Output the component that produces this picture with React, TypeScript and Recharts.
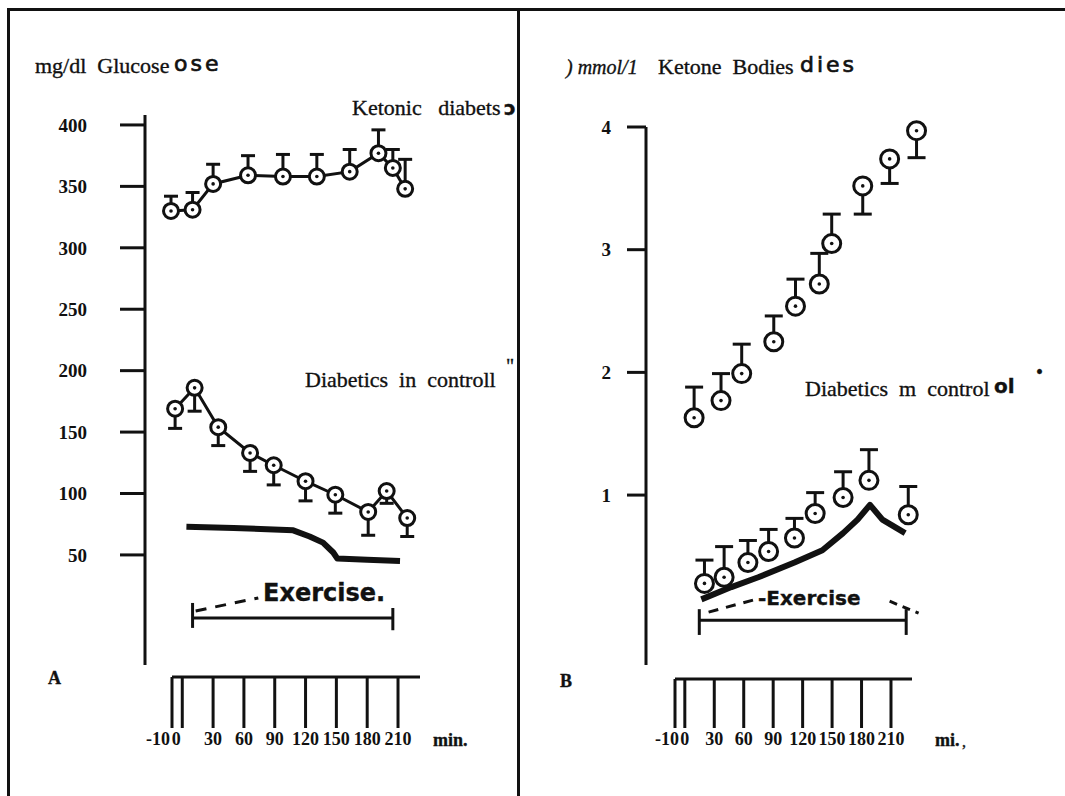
import React from "react";
import { ComposedChart, Line, XAxis, YAxis, ErrorBar, ReferenceLine } from "recharts";

// Panel A - blood glucose, mg/dl
const ketonicTimeA = [-11, 10, 30, 64, 98, 131, 163, 191, 205, 217];
const ketonicGlucose = [330, 331, 352, 359, 358, 358, 362, 377, 365, 348];
const ketonicGlucoseSem = [12, 14, 16, 16, 18, 18, 18, 19, 15, 24];

const controlledTimeA = [-7, 12, 35, 66, 89, 120, 149, 181, 199, 219];
const controlledGlucose = [169, 186, 154, 133, 123, 110, 99, 85, 102, 80];
const controlledGlucoseSem = [16, 19, 15, 15, 16, 16, 15, 19, 10, 15];

const healthyTimeA = [4, 50, 108, 124, 137, 147, 151, 180, 212];
const healthyGlucose = [73, 72, 70, 65, 60, 52, 47, 46, 45];

const glucoseTicks = [50, 100, 150, 200, 250, 300, 350, 400];

// Panel B - ketone bodies, mmol/l
const ketonicTimeB = [7, 33, 53, 84, 105, 128, 140, 170, 196, 222];
const ketonicKetones = [1.63, 1.77, 1.99, 2.25, 2.54, 2.72, 3.05, 3.52, 3.74, 3.97];
const ketonicKetonesUp = [0.25, 0.22, 0.24, 0.21, 0.22, 0.25, 0.24, 0, 0, 0];
const ketonicKetonesDown = [0, 0, 0, 0, 0, 0, 0, 0.23, 0.2, 0.22];

const controlledTimeB = [17, 36, 59, 79, 104, 124, 151, 176, 214];
const controlledKetones = [0.28, 0.33, 0.45, 0.54, 0.65, 0.85, 0.98, 1.12, 0.84];
const controlledKetonesSem = [0.19, 0.25, 0.18, 0.18, 0.16, 0.17, 0.21, 0.25, 0.23];

const healthyTimeB = [14, 43, 69, 104, 131, 151, 165, 177, 189, 211];
const healthyKetones = [0.15, 0.25, 0.33, 0.45, 0.55, 0.69, 0.8, 0.92, 0.8, 0.69];

const ketoneTicks = [1, 2, 3, 4];
const minuteTicks = [-10, 0, 30, 60, 90, 120, 150, 180, 210];

// exercise bracket, minutes
const exerciseA = [10, 205];
const exerciseB = [12, 212];

const ketonicA = ketonicTimeA.map((t, i) => ({ t, v: ketonicGlucose[i], err: [0, ketonicGlucoseSem[i]] }));
const controlledA = controlledTimeA.map((t, i) => ({ t, v: controlledGlucose[i], err: [controlledGlucoseSem[i], 0] }));
const healthyA = healthyTimeA.map((t, i) => ({ t, v: healthyGlucose[i] }));
const ketonicB = ketonicTimeB.map((t, i) => ({ t, v: ketonicKetones[i], err: [ketonicKetonesDown[i], ketonicKetonesUp[i]] }));
const controlledB = controlledTimeB.map((t, i) => ({ t, v: controlledKetones[i], err: [0, controlledKetonesSem[i]] }));
const healthyB = healthyTimeB.map((t, i) => ({ t, v: healthyKetones[i] }));
const combData = minuteTicks.map((t) => ({ t }));

const serif = "'Liberation Serif', 'DejaVu Serif', serif";
const sans = "'DejaVu Sans', sans-serif";
const INK = "#111";

const ring = (r: number) => (props: any) => {
  const { cx, cy, index } = props;
  if (cx == null || cy == null) return <g key={`e-${index}`} />;
  return (
    <g key={`d-${index}`}>
      <circle cx={cx} cy={cy} r={r} fill="#fff" stroke={INK} strokeWidth={3} />
      <circle cx={cx} cy={cy} r={1.8} fill={INK} />
    </g>
  );
};

const Txt = ({ x, y, size = 22, children, style = {} }: any) => (
  <div
    style={{
      position: "absolute",
      left: x,
      top: y - size / 2,
      fontSize: size,
      lineHeight: `${size}px`,
      whiteSpace: "pre",
      color: INK,
      WebkitTextStroke: "0.35px #111",
      ...style,
    }}
  >
    {children}
  </div>
);

// minute comb under each panel
const CombTick = (shift: Record<number, number>) => (props: any) => {
  const { x, y, payload } = props;
  const dx = shift[payload.value] || 0;
  return (
    <text x={x + dx} y={y} dy="0.71em" textAnchor="middle" fontFamily={serif} fontWeight="bold" fontSize={18} fill={INK}>
      {payload.value}
    </text>
  );
};

const Comb = ({ left, top, plotLeft, plotRight, end, tickSize, shift }: any) => (
  <div style={{ position: "absolute", left, top }}>
    <ComposedChart
      width={540}
      height={160}
      data={combData}
      margin={{ top: 10, right: 540 - plotRight, bottom: 160 - 70 - tickSize.axisY, left: plotLeft }}
    >
      <XAxis
        type="number"
        dataKey="t"
        domain={[-10, end]}
        allowDataOverflow
        ticks={minuteTicks}
        interval={0}
        height={70}
        tickSize={tickSize.len}
        tickMargin={4}
        axisLine={{ stroke: INK, strokeWidth: 3 }}
        tickLine={{ stroke: INK, strokeWidth: 3 }}
        tick={CombTick(shift)}
      />
    </ComposedChart>
  </div>
);

const App: React.FC = () => {
  // panel A: plot x 145..480, y 115..665 ; t0 at 182.3px, 1.027 px/min
  const aDomX = [(145 - 182.3) / 1.027, (480 - 182.3) / 1.027];
  // panel B: plot x 646..1020 (page), t0 at 684.8px, 0.982 px/min
  const bDomX = [(646 - 684.8) / 0.982, (1020 - 684.8) / 0.982];

  const axisStyle = { stroke: INK, strokeWidth: 3 };
  const numTick = { fill: INK, fontFamily: serif, fontWeight: "bold", fontSize: 19 };

  return (
    <div
      style={{
        position: "absolute",
        left: 0,
        top: 0,
        width: 1065,
        height: 796,
        background: "#fff",
        overflow: "hidden",
        fontFamily: serif,
      }}
    >
      {/* frame */}
      <div style={{ position: "absolute", left: 7, top: 8, width: 3, height: 788, background: INK }} />
      <div style={{ position: "absolute", left: 7, top: 8, width: 1058, height: 2.5, background: INK }} />
      <div style={{ position: "absolute", left: 517, top: 8, width: 3, height: 788, background: INK }} />

      {/* Panel A */}
      <div style={{ position: "absolute", left: 0, top: 0 }}>
        <ComposedChart width={520} height={700} margin={{ top: 115, right: 40, bottom: 35, left: 65 }}>
          <XAxis type="number" dataKey="t" domain={aDomX} hide />
          <YAxis
            type="number"
            domain={[-39.6, 408.1]}
            ticks={glucoseTicks}
            interval={0}
            width={80}
            tickSize={25}
            tickMargin={33}
            axisLine={axisStyle}
            tickLine={axisStyle}
            tick={numTick}
          />
          <Line data={healthyA} dataKey="v" type="linear" stroke={INK} strokeWidth={6} strokeLinejoin="round" dot={false} isAnimationActive={false} />
          <Line data={ketonicA} dataKey="v" type="linear" stroke={INK} strokeWidth={3} dot={ring(7.5)} isAnimationActive={false}>
            <ErrorBar dataKey="err" width={7} strokeWidth={3} stroke={INK} />
          </Line>
          <Line data={controlledA} dataKey="v" type="linear" stroke={INK} strokeWidth={3} dot={ring(7.5)} isAnimationActive={false}>
            <ErrorBar dataKey="err" width={7} strokeWidth={3} stroke={INK} />
          </Line>
          <ReferenceLine segment={[{ x: exerciseA[0], y: -1.3 }, { x: exerciseA[1], y: -1.3 }]} stroke={INK} strokeWidth={3} />
          <ReferenceLine segment={[{ x: exerciseA[0], y: 10.9 }, { x: exerciseA[0], y: -9.4 }]} stroke={INK} strokeWidth={3} />
          <ReferenceLine segment={[{ x: exerciseA[1], y: 6.8 }, { x: exerciseA[1], y: -11.3 }]} stroke={INK} strokeWidth={3} />
          <ReferenceLine segment={[{ x: 13, y: 4.4 }, { x: 74, y: 15 }]} stroke={INK} strokeWidth={3} strokeDasharray="11 9" />
        </ComposedChart>
      </div>
      <Comb left={0} top={600} plotLeft={172} plotRight={420} end={231.4} tickSize={{ len: 51, axisY: 77 }} shift={{ [-10]: -14, 0: -6 }} />

      {/* Panel B */}
      <div style={{ position: "absolute", left: 520, top: 0 }}>
        <ComposedChart width={545} height={700} margin={{ top: 127, right: 25, bottom: 35, left: 66 }}>
          <XAxis type="number" dataKey="t" domain={bDomX} hide />
          <YAxis
            type="number"
            domain={[-0.385, 4]}
            ticks={ketoneTicks}
            interval={0}
            width={60}
            tickSize={19}
            tickMargin={16}
            axisLine={axisStyle}
            tickLine={axisStyle}
            tick={numTick}
          />
          <Line data={healthyB} dataKey="v" type="linear" stroke={INK} strokeWidth={6} strokeLinejoin="round" dot={false} isAnimationActive={false} />
          <Line data={ketonicB} dataKey="v" type="linear" stroke="none" dot={ring(9)} isAnimationActive={false}>
            <ErrorBar dataKey="err" width={9} strokeWidth={3} stroke={INK} />
          </Line>
          <Line data={controlledB} dataKey="v" type="linear" stroke="none" dot={ring(9)} isAnimationActive={false}>
            <ErrorBar dataKey="err" width={9} strokeWidth={3} stroke={INK} />
          </Line>
          <ReferenceLine segment={[{ x: exerciseB[0], y: -0.02 }, { x: exerciseB[1], y: -0.02 }]} stroke={INK} strokeWidth={3} />
          <ReferenceLine segment={[{ x: exerciseB[0], y: 0.07 }, { x: exerciseB[0], y: -0.14 }]} stroke={INK} strokeWidth={3} />
          <ReferenceLine segment={[{ x: exerciseB[1], y: 0.07 }, { x: exerciseB[1], y: -0.14 }]} stroke={INK} strokeWidth={3} />
          <ReferenceLine segment={[{ x: 21, y: 0.046 }, { x: 64, y: 0.144 }]} stroke={INK} strokeWidth={3} strokeDasharray="10 8" />
          <ReferenceLine segment={[{ x: 196, y: 0.135 }, { x: 224, y: 0.037 }]} stroke={INK} strokeWidth={3} strokeDasharray="8 6" />
        </ComposedChart>
      </div>
      <Comb left={520} top={600} plotLeft={155} plotRight={392} end={231.4} tickSize={{ len: 49, axisY: 79 }} shift={{ [-10]: -8 }} />

      {/* Panel A text */}
      <Txt x={35} y={66}>mg/dl  Glucose</Txt>
      <Txt x={174} y={64} size={22} style={{ fontFamily: sans, letterSpacing: 3, WebkitTextStroke: "0.7px #111" }}>ose</Txt>
      <Txt x={352} y={108}>Ketonic   diabets</Txt>
      <Txt x={504} y={108} size={20} style={{ fontFamily: sans, fontWeight: "bold" }}>ɔ</Txt>
      <Txt x={305} y={380}>Diabetics  in  controll</Txt>
      <Txt x={506} y={366} size={20}>"</Txt>
      <Txt x={263} y={593} size={24} style={{ fontFamily: sans, fontWeight: "bold" }}>Exercise.</Txt>
      <Txt x={48} y={678} size={18} style={{ fontWeight: "bold" }}>A</Txt>
      <Txt x={433} y={740} size={18} style={{ fontWeight: "bold" }}>min.</Txt>

      {/* Panel B text */}
      <Txt x={566} y={67} size={20} style={{ fontStyle: "italic" }}>) mmol/1</Txt>
      <Txt x={658} y={67}>Ketone  Bodies</Txt>
      <Txt x={800} y={65} size={22} style={{ fontFamily: sans, letterSpacing: 3, WebkitTextStroke: "0.7px #111" }}>dies</Txt>
      <Txt x={805} y={389}>Diabetics  m  control</Txt>
      <Txt x={994} y={386} size={20} style={{ fontFamily: sans, fontWeight: "bold" }}>ol</Txt>
      <Txt x={1036} y={372} size={20}>•</Txt>
      <Txt x={758} y={598} size={20} style={{ fontFamily: sans, fontWeight: "bold" }}>-Exercise</Txt>
      <Txt x={560} y={681} size={18} style={{ fontWeight: "bold" }}>B</Txt>
      <Txt x={935} y={740} size={18} style={{ fontWeight: "bold" }}>mi.</Txt>
      <Txt x={962} y={742} size={16}>,</Txt>
    </div>
  );
};

export default App;
